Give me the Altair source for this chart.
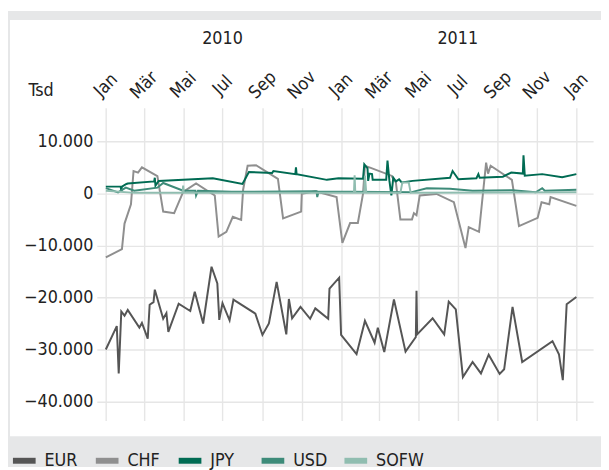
import altair as alt
import pandas as pd

FONT = "DejaVu Sans Condensed, DejaVu Sans, sans-serif"
TEXT = "#222222"
GRAY_BG = "#e6e7e8"
GRID = "#e6e6e6"

series_names = ["EUR", "CHF", "JPY", "USD", "SOFW"]
series_colors = ["#555555", "#8f8f8f", "#006b53", "#3d8b79", "#90bdb0"]

eur_dates = ["2010-01-01", "2010-01-18", "2010-01-21", "2010-01-25", "2010-01-30", "2010-02-04",
             "2010-02-22", "2010-02-26", "2010-03-07", "2010-03-10", "2010-03-16", "2010-03-18",
             "2010-03-31", "2010-04-05", "2010-04-08", "2010-04-24", "2010-05-12", "2010-05-19",
             "2010-06-01", "2010-06-14", "2010-06-23", "2010-06-26", "2010-07-01", "2010-07-12",
             "2010-07-18", "2010-08-21", "2010-09-01", "2010-09-11", "2010-09-23", "2010-10-08",
             "2010-10-12", "2010-10-17", "2010-10-30", "2010-11-14", "2010-11-22", "2010-12-12",
             "2010-12-14", "2010-12-29", "2011-01-01", "2011-01-25", "2011-02-07", "2011-02-22",
             "2011-02-27", "2011-03-09", "2011-03-24", "2011-04-11", "2011-04-27", "2011-04-28",
             "2011-04-29", "2011-05-23", "2011-06-10", "2011-06-17", "2011-06-28", "2011-07-09",
             "2011-07-24", "2011-08-06", "2011-08-18", "2011-09-04", "2011-09-11", "2011-09-24",
             "2011-10-09", "2011-11-25", "2011-12-05", "2011-12-11", "2011-12-17", "2012-01-01"]
eur_values = [-30000, -25500, -34600, -22700, -23500, -22400,
              -25800, -24900, -27900, -21400, -20900, -18500,
              -24100, -23000, -26600, -21200, -22600, -18900,
              -25000, -14100, -17300, -24300, -21100, -24400,
              -20400, -23100, -27200, -25000, -17000, -27100,
              -20300, -24000, -21800, -24100, -22100, -24100,
              -18300, -16200, -27200, -30900, -24500, -28700,
              -25800, -30500, -20400, -30400, -27600, -18700,
              -27100, -24000, -27100, -20800, -22300, -35300,
              -32400, -34600, -31000, -34700, -33800, -21800,
              -32400, -28400, -30900, -35900, -21300, -19900]

chf_dates = ["2010-01-01", "2010-01-26", "2010-01-30", "2010-02-09", "2010-02-13", "2010-02-20",
             "2010-02-26", "2010-03-22", "2010-03-31", "2010-04-17", "2010-05-01", "2010-05-21",
             "2010-06-19", "2010-06-25", "2010-07-07", "2010-07-17", "2010-07-30", "2010-08-02",
             "2010-08-09", "2010-08-22", "2010-09-25", "2010-10-03", "2010-10-31", "2010-11-01",
             "2010-11-22", "2010-12-25", "2011-01-03", "2011-01-15", "2011-01-27", "2011-02-04",
             "2011-02-07", "2011-02-16", "2011-03-20", "2011-03-27", "2011-04-03", "2011-04-21",
             "2011-04-24", "2011-04-28", "2011-05-03", "2011-05-29", "2011-06-25", "2011-07-13",
             "2011-07-18", "2011-08-03", "2011-08-14", "2011-08-17", "2011-08-21", "2011-09-23",
             "2011-10-04", "2011-11-02", "2011-11-08", "2011-11-20", "2011-11-22", "2012-01-01"]
chf_values = [-12300, -10700, -5800, -2100, 4300, 4000,
              5000, 3300, -3500, -3800, 300, 1900,
              -400, -8300, -7400, -4500, -5100, 700,
              5300, 5400, 2800, -4800, -3500, -100,
              400, -700, -9500, -5700, -5700, -100,
              5300, 4900, 3400, 2100, -5000, -5000,
              -3800, -4200, -400, -100, -1700, -10500,
              -6500, -7400, 5900, 3800, 5300, 2600,
              -6300, -4700, -1700, -2100, -700, -2400]

jpy_dates = ["2010-01-01", "2010-01-24", "2010-01-25", "2010-01-26", "2010-02-02", "2010-02-04",
             "2010-03-17", "2010-03-18", "2010-03-19", "2010-03-24", "2010-06-16", "2010-08-01",
             "2010-08-11", "2010-09-16", "2010-09-18", "2010-10-22", "2010-10-23", "2010-10-24",
             "2010-12-10", "2010-12-28", "2011-02-04", "2011-02-06", "2011-02-11", "2011-02-12",
             "2011-02-14", "2011-02-18", "2011-02-19", "2011-03-12", "2011-03-14", "2011-03-17",
             "2011-03-20", "2011-03-23", "2011-03-27", "2011-04-01", "2011-04-05", "2011-04-22",
             "2011-06-19", "2011-06-23", "2011-07-02", "2011-07-30", "2011-08-02", "2011-08-04",
             "2011-09-09", "2011-09-22", "2011-10-10", "2011-10-11", "2011-10-13", "2011-11-09",
             "2011-12-10", "2012-01-01"]
jpy_values = [1300, 1300, 500, 1300, 1800, 1900,
              2300, 3000, 1500, 2400, 2900, 1800,
              4100, 3900, 4300, 3700, 5000, 3700,
              2600, 2900, 2800, 5600, 4800, 2400,
              3800, 3700, 2600, 2600, 6300, 2400,
              -400, 3000, 2300, 2700, 2100, 2400,
              3000, 4300, 2700, 2900, 3700, 3000,
              3200, 4000, 3800, 7300, 3400, 3700,
              3100, 3700]

usd_dates = ["2010-01-01", "2010-01-20", "2010-02-01", "2010-02-14", "2010-03-22", "2010-03-31",
             "2010-05-01", "2010-05-20", "2010-05-21", "2010-05-24", "2010-07-15", "2010-11-24",
             "2010-11-25", "2010-11-27", "2011-01-15", "2011-04-19", "2011-05-14", "2011-06-19",
             "2011-07-24", "2011-09-24", "2011-10-30", "2011-11-09", "2011-11-13", "2012-01-01"]
usd_values = [1000, 200, 1100, 500, 1100, 2000,
              500, 500, -400, 500, 300, 400,
              -700, 300, 300, 200, 1000, 900,
              500, 600, 200, 1000, 500, 700]

sofw_dates = ["2010-01-01", "2010-02-15", "2010-04-30", "2010-05-01", "2010-05-02", "2011-01-21",
              "2011-01-22", "2011-01-23", "2011-02-06", "2011-02-07", "2011-02-09", "2011-04-03",
              "2011-04-06", "2011-04-16", "2011-04-19", "2012-01-01"]
sofw_values = [500, 100, 100, 1500, 100, 100,
               3500, 100, 100, 3400, 100, 100,
               2100, 2100, 100, 200]

year_dates = ["2010-07-01", "2011-07-01"]
year_labels = ["2010", "2011"]

month_ticks = [(2010, 1), (2010, 3), (2010, 5), (2010, 7), (2010, 9), (2010, 11),
               (2011, 1), (2011, 3), (2011, 5), (2011, 7), (2011, 9), (2011, 11), (2012, 1)]
y_ticks = [10000, 0, -10000, -20000, -30000, -40000]

rows = []
for name, ds, vs in [("EUR", eur_dates, eur_values), ("CHF", chf_dates, chf_values),
                     ("JPY", jpy_dates, jpy_values), ("USD", usd_dates, usd_values),
                     ("SOFW", sofw_dates, sofw_values)]:
    for d, v in zip(ds, vs):
        rows.append({"series": name, "date": d + "T00:00:00", "value": v})
df = pd.DataFrame(rows)

year_df = pd.DataFrame({"date": [d + "T00:00:00" for d in year_dates], "label": year_labels})

x_scale = alt.Scale(domain=[alt.DateTime(year=2009, month=12, date=18),
                            alt.DateTime(year=2012, month=1, date=27)], nice=False)
y_scale = alt.Scale(domain=[-43650, 16450], nice=False, zero=False)

month_expr = "['Jan','Feb','Mär','Apr','Mai','Jun','Jul','Aug','Sep','Okt','Nov','Dez'][month(datum.value)]"

x_axis = alt.Axis(orient="top", values=[alt.DateTime(year=y, month=m, date=1) for y, m in month_ticks],
                  labelExpr=month_expr, title=None, grid=True, ticks=False, tickSize=0, domain=False,
                  labelAngle=-45, labelAlign="center", labelBaseline="middle", labelPadding=23,
                  labelFont=FONT, labelFontSize=18, labelColor=TEXT, gridColor=GRID, gridWidth=1.4,
                  labelOverlap=False, labelFlush=False)
y_axis = alt.Axis(values=y_ticks, labelExpr="replace(format(datum.value, ','), ',', '.')",
                  title="Tsd", titleAngle=0, titleX=-57, titleY=-17, titleAlign="center",
                  titleBaseline="middle", titleFont=FONT, titleFontSize=18, titleFontWeight="normal",
                  titleColor=TEXT, grid=True, ticks=False, tickSize=0, domain=False, labelPadding=4,
                  labelFont=FONT, labelFontSize=18, labelColor=TEXT, gridColor=GRID, gridWidth=1.4)

one = pd.DataFrame({"k": [0]})
strip_top = alt.Chart(one).mark_rect(color=GRAY_BG).encode(
    x=alt.value(-90), x2=alt.value(511), y=alt.value(-98), y2=alt.value(-89))
strip_bottom = alt.Chart(one).mark_rect(color=GRAY_BG).encode(
    x=alt.value(-90), x2=alt.value(511), y=alt.value(333), y2=alt.value(364))
strip_left = alt.Chart(one).mark_rect(color=GRAY_BG).encode(
    x=alt.value(-90), x2=alt.value(-88), y=alt.value(-98), y2=alt.value(364))

lines = alt.Chart(df).mark_line(strokeWidth=2).encode(
    x=alt.X("date:T", scale=x_scale, axis=x_axis),
    y=alt.Y("value:Q", scale=y_scale, axis=y_axis),
    color=alt.Color("series:N", sort=series_names,
                    scale=alt.Scale(domain=series_names, range=series_colors),
                    legend=alt.Legend(title=None, orient="none", legendX=-88, legendY=343,
                                      direction="horizontal", symbolType="stroke",
                                      symbolStrokeWidth=6, symbolSize=529, labelFont=FONT,
                                      labelFontSize=18, labelColor=TEXT, labelOffset=6,
                                      columnPadding=-10, gridAlign="all")),
    detail="series:N",
)

years = alt.Chart(year_df).mark_text(font=FONT, fontSize=18, color=TEXT, align="center",
                                     baseline="middle").encode(
    x=alt.X("date:T", scale=x_scale, axis=x_axis),
    y=alt.value(-70),
    text="label:N",
)

chart = alt.layer(strip_top, strip_bottom, strip_left, lines, years).properties(
    width=503, height=317,
    padding={"left": 90, "top": 98, "right": 8, "bottom": 47},
    autosize=alt.AutoSizeParams(type="none"),
    background="white",
).configure_view(stroke=None)

chart.save("out.html", embed_options={"renderer": "svg", "actions": False})
